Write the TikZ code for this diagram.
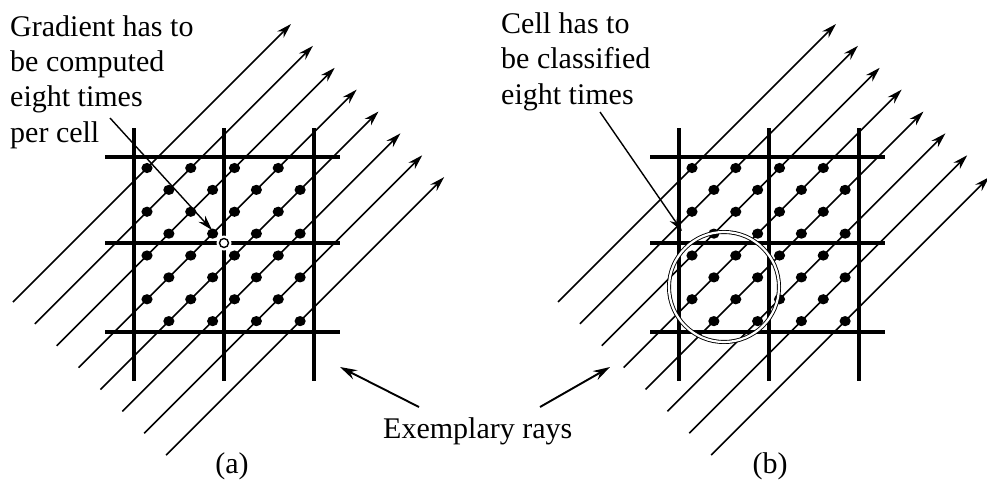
\documentclass[tikz,border=0pt]{standalone}
\usepackage{fontspec}
\setmainfont{Liberation Serif}
\usetikzlibrary{arrows.meta}
\begin{document}
\begin{tikzpicture}[x=1pt,y=-1pt,
  ray/.style={line width=1.7pt,-{Stealth[length=15pt,width=9pt]}},
  gridline/.style={line width=4pt},
  lbl/.style={font=\fontsize{30}{35.3}\selectfont,inner sep=0pt,align=left},
  note/.style={line width=1.4pt,-{Stealth[length=15pt,width=9pt]}},
  pointer/.style={line width=1.9pt,-{Stealth[length=17pt,width=10pt]}},
]
\useasboundingbox (0,0) rectangle (987,480);
\foreach \ox/\nm in {0/a,545/b} {
  \begin{scope}[xshift=\ox pt]
    % rays
    \foreach \k in {0,...,7} {
      \coordinate (\nm-t\k) at ({13+21.875*\k},{302+21.875*\k});
      \coordinate (\nm-h\k) at ({291+21.875*\k},{24+21.875*\k});
      \draw[ray] (\nm-t\k) -- (\nm-h\k);
    }
    % grid
    \foreach \gx in {133.5,224,314} {
      \draw[gridline] (\gx,128) -- (\gx,381);
    }
    \foreach \gy in {157,243,332} {
      \draw[gridline] (105,\gy) -- (340,\gy);
    }
    % samples
    \foreach \r in {0,...,7} {
      \pgfmathtruncatemacro\s{mod(\r,2)}
      \foreach \j in {0,...,3} {
        \fill ({147+21.875*(\s+2*\j)},{168+21.875*\r}) ellipse (5.6pt and 5.1pt);
      }
    }
  \end{scope}
}
% marker on vertex (a)
\fill[white] (224,243) circle (7.5pt);
\draw[line width=1.4pt] (224,243) circle (4.5pt);
% circled cell (b)
\draw[line width=0.9pt,double=white,double distance=2.2pt] (724,287) circle (55pt);

% labels
\node[lbl,anchor=base west] (gradlbl) at (10,142) {Gradient has to\\be computed\\eight times\\per cell};
\node[lbl,anchor=base west] (celllbl) at (501,104) {Cell has to\\be classified\\eight times};
\node[lbl,anchor=base west] (exlbl) at (383,438) {Exemplary rays};
\node[lbl,anchor=base] (capa) at (232,473) {(a)};
\node[lbl,anchor=base] (capb) at (770,473) {(b)};

% annotation arrows
\coordinate (g1) at (110,118);
\coordinate (g2) at (212,230);
\draw[note] (g1) -- (g2);
\coordinate (c1) at (600,112);
\coordinate (c2) at (682,231);
\draw[note] (c1) -- (c2);
\coordinate (e1) at (419,407);
\coordinate (e2) at (340,367);
\draw[pointer] (e1) -- (e2);
\coordinate (e3) at (540,407);
\coordinate (e4) at (610,367);
\draw[pointer] (e3) -- (e4);
\end{tikzpicture}
\end{document}
